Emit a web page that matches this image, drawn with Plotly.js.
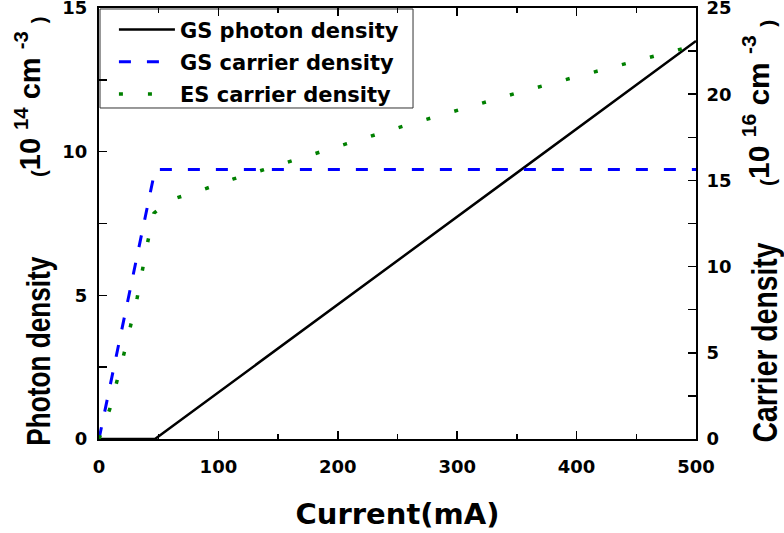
<!DOCTYPE html>
<html>
<head>
<meta charset="utf-8">
<script src="https://cdn.plot.ly/plotly-3.0.1.min.js"></script>
<style>
  html, body { margin: 0; padding: 0; background: #fff; }
  #chart { width: 784px; height: 533px; }
</style>
</head>
<body>
<div id="chart"></div>
<script>
// Injection current (mA) and simulated densities
const currentPhoton = [0, 46.9, 500];
const gsPhotonDensity = [0, 0, 13.85];            // 10^14 cm^-3

const currentGS = [0, 47, 500];
const gsCarrierDensity = [0, 15.63, 15.63];       // 10^16 cm^-3

const currentES = [0, 9, 21, 32, 41, 46, 55, 64.5, 88, 112, 136.5, 160, 207.5, 255, 303, 351, 399, 446.5, 500];
const esCarrierDensity = [0, 1.73, 4.97, 8.2, 11.49, 13.1, 13.6, 13.97, 14.49, 15.07, 15.59, 16.11, 17.13, 18.15, 19.13, 20.09, 21.0, 21.88, 22.85];

const seriesNames = ['GS photon density', 'GS carrier density', 'ES carrier density'];

const tickFont = { family: 'DejaVu Sans, sans-serif', size: 18, color: '#000', weight: 'bold' };
const vertFont = 'Liberation Sans, Arial, sans-serif';

const traces = [
  {
    x: currentPhoton, y: gsPhotonDensity, name: seriesNames[0], legendgroup: 'a',
    type: 'scatter', mode: 'lines', yaxis: 'y',
    line: { color: '#000000', width: 2.5 }
  },
  {
    x: currentGS, y: gsCarrierDensity, name: seriesNames[1], legendgroup: 'b',
    type: 'scatter', mode: 'lines', yaxis: 'y2',
    line: { color: '#0000ff', width: 3, dash: '12px,16px' }
  },
  {
    x: currentES, y: esCarrierDensity, name: seriesNames[2], legendgroup: 'c',
    type: 'scatter', mode: 'lines', yaxis: 'y2',
    line: { color: '#008000', width: 3.5, dash: '4px,25px' }
  }
];

const axisCommon = {
  showgrid: false, zeroline: false,
  showline: true, linecolor: '#000', linewidth: 2,
  ticks: 'inside', ticklen: 8, tickwidth: 1.5, tickcolor: '#000',
  tickfont: tickFont, ticklabeloverflow: 'allow'
};

const layout = {
  width: 784, height: 533,
  margin: { l: 99, r: 88, t: 8, b: 94 },
  paper_bgcolor: '#fff', plot_bgcolor: '#fff',
  showlegend: true,
  legend: {
    x: 0.025, y: 0.997, xanchor: 'left', yanchor: 'top',
    bgcolor: 'rgba(0,0,0,0)', borderwidth: 0,
    font: { family: 'DejaVu Sans, sans-serif', size: 21, color: '#000', weight: 'bold' },
    itemwidth: 56, tracegroupgap: 2
  },
  // legend frame
  shapes: [
    {
      type: 'rect', xref: 'paper', yref: 'paper', layer: 'below',
      x0: 0.0017, x1: 0.526, y0: 0.768, y1: 0.9977,
      line: { color: '#333', width: 1 }, fillcolor: '#fff'
    }
  ],
  xaxis: Object.assign({}, axisCommon, {
    range: [0, 500], dtick: 100, tick0: 0, mirror: 'ticks',
    minor: { dtick: 50, ticks: 'inside', ticklen: 5, tickwidth: 1.5, tickcolor: '#000' },
    ticklabelstandoff: 10,
    title: {
      text: 'Current(mA)', standoff: 28,
      font: { family: 'DejaVu Sans, sans-serif', size: 29, color: '#000', weight: 'bold' }
    }
  }),
  yaxis: Object.assign({}, axisCommon, {
    range: [0, 15], dtick: 5, tick0: 0,
    minor: { dtick: 2.5, ticks: 'inside', ticklen: 8, tickwidth: 1.5, tickcolor: '#000' },
    ticklabelstandoff: 6
  }),
  yaxis2: Object.assign({}, axisCommon, {
    range: [0, 25], dtick: 5, tick0: 0,
    overlaying: 'y', side: 'right',
    minor: { dtick: 2.5, ticks: 'inside', ticklen: 8, tickwidth: 1.5, tickcolor: '#000' },
    ticklabelstandoff: 5
  }),
  annotations: [
    {
      text: 'Photon density', textangle: -90, showarrow: false,
      xref: 'paper', yref: 'paper', x: 0, y: 0, xanchor: 'center', yanchor: 'middle',
      xshift: -61, yshift: 88,
      font: { family: vertFont, size: 34, color: '#000', weight: 'bold' }
    },
    {
      text: '<sub>(</sub>10 <sup>14</sup> cm <sup>-3</sup> <sub>)</sub>', textangle: -90, showarrow: false,
      xref: 'paper', yref: 'paper', x: 0, y: 0, xanchor: 'center', yanchor: 'middle',
      xshift: -69, yshift: 342,
      font: { family: vertFont, size: 29, color: '#000', weight: 'bold' }
    },
    {
      text: 'Carrier density', textangle: -90, showarrow: false,
      xref: 'paper', yref: 'paper', x: 1, y: 0, xanchor: 'center', yanchor: 'middle',
      xshift: 68, yshift: 97,
      font: { family: vertFont, size: 35, color: '#000', weight: 'bold' }
    },
    {
      text: '<sub>(</sub>10 <sup>16</sup> cm <sup>-3</sup> <sub>)</sub>', textangle: -90, showarrow: false,
      xref: 'paper', yref: 'paper', x: 1, y: 0, xanchor: 'center', yanchor: 'middle',
      xshift: 62, yshift: 336,
      font: { family: vertFont, size: 30, color: '#000', weight: 'bold' }
    }
  ]
};

// The vertical axis captions are set in a condensed face: squeeze them to their column length.
const condensedLength = { 'Photon density': 189, 'Carrier density': 200 };

Plotly.newPlot('chart', traces, layout, { staticPlot: true, displayModeBar: false }).then(gd => {
  gd.querySelectorAll('.annotation-text').forEach(t => {
    const len = condensedLength[t.textContent];
    if (len) {
      t.setAttribute('textLength', len);
      t.setAttribute('lengthAdjust', 'spacingAndGlyphs');
    }
  });
});
</script>
</body>
</html>
